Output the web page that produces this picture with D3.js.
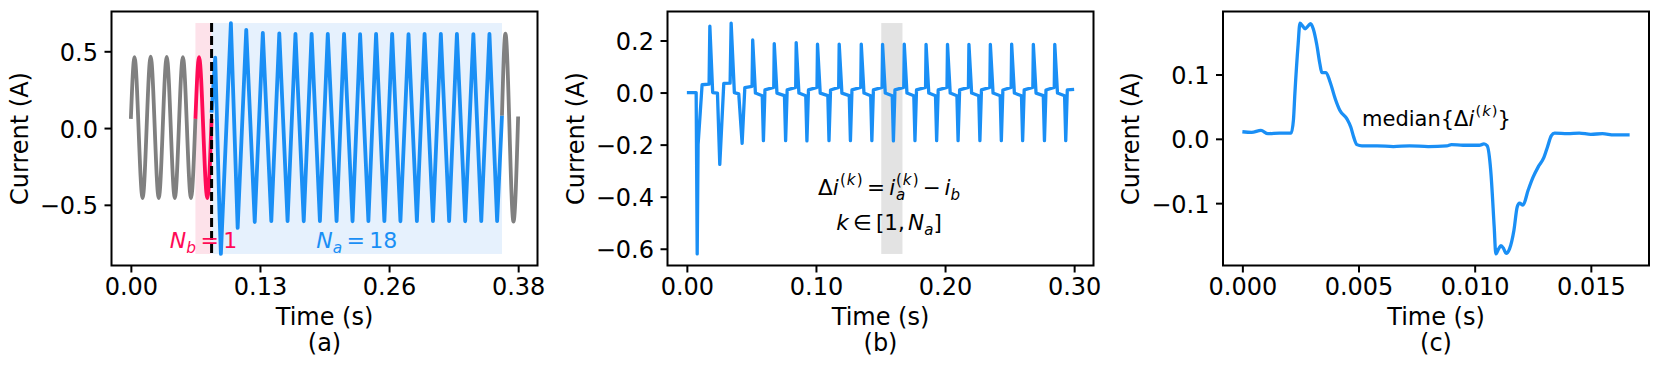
<!DOCTYPE html>
<html>
<head>
<meta charset="utf-8">
<script src="https://cdn.jsdelivr.net/npm/d3@7"></script>
<style>
  body { margin: 0; background: #fff; }
  svg text { font-family: "DejaVu Sans", sans-serif; }
</style>
</head>
<body>
<script>
// ---- panel (a): raw current, before / after the event ----
const aGrayT = [0, 0.0036, 0.0116, 0.0196, 0.0276, 0.0355, 0.0435, 0.0515, 0.0595, 0.0639];
const aGrayI = [0.06, 0.462, -0.457, 0.465, -0.457, 0.463, -0.457, 0.462, -0.457, 0.06];
const aPinkT = [0.0639, 0.0675, 0.0757, 0.0799];
const aPinkI = [0.06, 0.462, -0.457, 0.06];
const aBlueT = [0.0799, 0.0835, 0.0877, 0.0891,
  0.0990, 0.1057, 0.1142, 0.1226, 0.1306, 0.1390, 0.1469, 0.1551, 0.1629, 0.1711,
  0.1789, 0.1871, 0.1949, 0.2036, 0.2110, 0.2194, 0.2269, 0.2351, 0.2427, 0.2509,
  0.2586, 0.2668, 0.2748, 0.2831, 0.2907, 0.2990, 0.3068, 0.3150, 0.3227, 0.3309,
  0.3390, 0.3468, 0.3549, 0.3625, 0.3673];
const aBlueI = [0.10, 0.458, -0.55, -0.82,
  0.684, -0.65, 0.640, -0.612, 0.620, -0.606, 0.617, -0.606, 0.614, -0.607,
  0.613, -0.606, 0.614, -0.606, 0.613, -0.607, 0.612, -0.606, 0.614, -0.606,
  0.613, -0.607, 0.612, -0.606, 0.613, -0.606, 0.614, -0.606, 0.613, -0.607,
  0.612, -0.606, 0.613, -0.606, 0.08];
const aGray2T = [0.3673, 0.3707, 0.3787, 0.3833];
const aGray2I = [0.08, 0.615, -0.610, 0.075];
const aBefore = [0.0639, 0.0799];
const aAfter = [0.0799, 0.3673];
const aTicks = [0, 0.12778, 0.25556, 0.38333];
const aTickLabels = ["0.00", "0.13", "0.26", "0.38"];
const nBefore = 1, nAfter = 18;

// ---- panel (b): difference current ----
const bTime = [
  0, 0.0072, 0.0080, 0.0087, 0.0118, 0.0172,
  0.0178, 0.0200, 0.0237, 0.0255, 0.0286, 0.0335,
  0.0343, 0.0368, 0.0402, 0.0428, 0.0449, 0.0505,
  0.0510, 0.0531, 0.0584, 0.0593, 0.0605, 0.0673,
  0.0677, 0.0698, 0.0756, 0.0765, 0.0777, 0.0843,
  0.0847, 0.0868, 0.0921, 0.0930, 0.0942, 0.1008,
  0.1012, 0.1033, 0.1092, 0.1101, 0.1113, 0.1176,
  0.1180, 0.1201, 0.1258, 0.1267, 0.1279, 0.1347,
  0.1351, 0.1372, 0.1424, 0.1433, 0.1445, 0.1512,
  0.1516, 0.1537, 0.1591, 0.1600, 0.1612, 0.1680,
  0.1684, 0.1705, 0.1758, 0.1767, 0.1779, 0.1849,
  0.1853, 0.1874, 0.1926, 0.1935, 0.1947, 0.2015,
  0.2019, 0.2040, 0.2092, 0.2101, 0.2113, 0.2181,
  0.2185, 0.2206, 0.2261, 0.2270, 0.2282, 0.2347,
  0.2351, 0.2372, 0.2427, 0.2436, 0.2448, 0.2512,
  0.2516, 0.2537, 0.2592, 0.2601, 0.2613, 0.2680,
  0.2684, 0.2705, 0.2761, 0.2770, 0.2782, 0.2846,
  0.2850, 0.2871, 0.2926, 0.2935, 0.2947, 0.3000];
const bCurrent = [
  0, 0, -0.62, -0.20, 0.030, 0.032,
  0.255, 0.000, -0.002, -0.276, 0.035, 0.036,
  0.267, 0.000, -0.005, -0.195, 0.019, 0.024,
  0.202, -0.002, -0.012, -0.185, 0.010, 0.020,
  0.188, -0.002, -0.012, -0.185, 0.010, 0.020,
  0.192, -0.002, -0.012, -0.186, 0.010, 0.020,
  0.186, -0.002, -0.012, -0.185, 0.010, 0.020,
  0.186, -0.002, -0.012, -0.185, 0.010, 0.020,
  0.186, -0.002, -0.012, -0.185, 0.010, 0.020,
  0.185, -0.002, -0.012, -0.186, 0.010, 0.020,
  0.186, -0.002, -0.012, -0.185, 0.010, 0.020,
  0.185, -0.002, -0.012, -0.185, 0.010, 0.020,
  0.185, -0.002, -0.012, -0.185, 0.010, 0.020,
  0.185, -0.002, -0.012, -0.185, 0.010, 0.020,
  0.185, -0.002, -0.012, -0.185, 0.010, 0.020,
  0.186, -0.002, -0.012, -0.185, 0.010, 0.020,
  0.185, -0.002, -0.012, -0.185, 0.010, 0.020,
  0.185, -0.002, -0.012, -0.185, 0.010, 0.012];
const bBand = [0.1506, 0.1670];
const bTicks = [0, 0.1, 0.2, 0.3];
const bYTicks = [-0.6, -0.4, -0.2, 0, 0.2];

// ---- panel (c): median difference over one cycle ----
const cTime = [0, 0.0004, 0.0008, 0.0011, 0.0016, 0.0021, 0.0022, 0.00226, 0.0024, 0.00248,
  0.00258, 0.0027, 0.00284, 0.00294, 0.00305, 0.0032, 0.00334, 0.00342, 0.0036, 0.00378,
  0.0040, 0.0042, 0.0045, 0.00467, 0.00479, 0.00493, 0.00515, 0.0058, 0.0065, 0.0072,
  0.0080, 0.0088, 0.0090, 0.0095, 0.0102, 0.0104, 0.01054, 0.01069, 0.01084, 0.01091,
  0.01103, 0.01113, 0.01125, 0.01135, 0.0115, 0.01169, 0.01183, 0.01193, 0.01208, 0.0123,
  0.01251, 0.01273, 0.01298, 0.01313, 0.0133, 0.01344, 0.0140, 0.0145, 0.0150, 0.0155,
  0.0160, 0.01667];
const cCurrent = [0.011, 0.010, 0.013, 0.008, 0.009, 0.009, 0.030, 0.070, 0.147, 0.180,
  0.176, 0.171, 0.176, 0.179, 0.171, 0.147, 0.116, 0.103, 0.103, 0.088,
  0.062, 0.044, 0.031, 0.018, 0.003, -0.009, -0.011, -0.011, -0.012, -0.011,
  -0.012, -0.011, -0.009, -0.010, -0.010, -0.008, -0.011, -0.049, -0.137, -0.179,
  -0.171, -0.166, -0.171, -0.178, -0.171, -0.142, -0.106, -0.100, -0.103, -0.080,
  -0.060, -0.044, -0.029, -0.013, 0.005, 0.009, 0.008, 0.009, 0.007, 0.008,
  0.006, 0.006];
const cTicks = [0, 0.005, 0.010, 0.015];
const cYTicks = [-0.1, 0, 0.1];

const BLUE = "#1a8ff5";
const PINK = "#ff0a56";
const GRAY = "#808080";

const W = 1661, H = 369;
const AW = 426, AH = 254, TOP = 11.5;
const FS = 24;

const svg = d3.select("body").append("svg").attr("width", W).attr("height", H);

function pad([a, b]) {
  const m = (b - a) * 0.05;
  return [a - m, b + m];
}

function makeScales(left, xExt, yExt) {
  const x = d3.scaleLinear().domain(pad(xExt)).range([left, left + AW]);
  const y = d3.scaleLinear().domain(pad(yExt)).range([TOP + AH, TOP]);
  return { x, y };
}

function drawAxes(left, x, y, xTicks, xFmt, yTicks, yFmt, caption) {
  const xa = svg.append("g")
    .attr("transform", `translate(0,${TOP + AH})`)
    .call(d3.axisBottom(x).tickValues(xTicks).tickFormat(xFmt).tickSize(7).tickPadding(5.5));
  const ya = svg.append("g")
    .attr("transform", `translate(${left},0)`)
    .call(d3.axisLeft(y).tickValues(yTicks).tickFormat(yFmt).tickSize(7).tickPadding(6.5));
  [xa, ya].forEach(a => {
    a.select(".domain").remove();
    a.selectAll("line").attr("stroke", "#000").attr("stroke-width", 2);
    a.selectAll("text").attr("font-size", FS).attr("fill", "#000")
      .style("font-family", "'DejaVu Sans', sans-serif");
  });
  ya.selectAll("text").attr("dy", "0.38em");

  svg.append("rect")
    .attr("x", left).attr("y", TOP).attr("width", AW).attr("height", AH)
    .attr("fill", "none").attr("stroke", "#000").attr("stroke-width", 2);

  svg.append("text")
    .attr("x", left + AW / 2).attr("y", 325)
    .attr("text-anchor", "middle").attr("font-size", FS)
    .text("Time (s)");
  svg.append("text")
    .attr("x", left + AW / 2).attr("y", 351)
    .attr("text-anchor", "middle").attr("font-size", FS)
    .text(caption);
  svg.append("text")
    .attr("transform", `translate(${left - 84},${TOP + AH / 2}) rotate(-90)`)
    .attr("text-anchor", "middle").attr("font-size", FS)
    .text("Current (A)");
}

// mathtext-like layout in one <text>: italic letters, sub and superscripts
// each segment: [string, italic, extra space before it in em]
function mathText(parts, x, y, size, color, anchor) {
  const t = svg.append("text").attr("fill", color).attr("font-size", size).attr("y", y);
  let pen = 0, maxX = 0, lastStart = 0, curDy = 0, gapAcc = 0;
  for (const p of parts) {
    if (p.gap !== undefined) { gapAcc += p.gap * size; continue; }
    const start = p.stack ? lastStart : maxX + gapAcc;
    gapAcc = 0;
    const fs = size * (p.sc || 1);
    const shift = (p.dy || 0) * size;
    p.s.forEach(([s, ital, pre], j) => {
      const ts = t.append("tspan")
        .attr("font-size", fs)
        .attr("font-style", ital ? "italic" : "normal")
        .text(s);
      if (j === 0) {
        ts.attr("dx", start - pen).attr("dy", shift - curDy);
        pen = start;
        curDy = shift;
      } else if (pre) {
        ts.attr("dx", pre * fs);
        pen += pre * fs;
      }
      pen += ts.node().getComputedTextLength();
    });
    lastStart = start;
    maxX = Math.max(maxX, pen);
  }
  const off = anchor === "middle" ? -maxX / 2 : anchor === "end" ? -maxX : 0;
  t.attr("x", x + off);
}
const it = s => ({ s: [[s, true]] });
const rm = s => ({ s: [[s, false]] });
const sub = s => ({ s: [[s, true]], sc: 0.7, dy: 0.25 });
const supK = stack => ({ s: [["(", false], ["k", true, 0.06], [")", false, 0.08]], sc: 0.7, dy: -0.45, stack });
const gap = v => ({ gap: v });

const lineOf = (x, y, curve) => d3.line().x(d => x(d[0])).y(d => y(d[1])).curve(curve);

// ================= panel (a) =================
{
  const left = 111.5;
  const allI = [...aGrayI, ...aPinkI, ...aBlueI, ...aGray2I];
  const yExt = d3.extent(allI);
  const { x, y } = makeScales(left, [0, d3.max(aGray2T)], yExt);

  svg.append("rect")
    .attr("x", x(aBefore[0])).attr("width", x(aBefore[1]) - x(aBefore[0]))
    .attr("y", y(yExt[1])).attr("height", y(yExt[0]) - y(yExt[1]))
    .attr("fill", "#fde2ea");
  svg.append("rect")
    .attr("x", x(aAfter[0])).attr("width", x(aAfter[1]) - x(aAfter[0]))
    .attr("y", y(yExt[1])).attr("height", y(yExt[0]) - y(yExt[1]))
    .attr("fill", "#e6f1fd");

  const smooth = lineOf(x, y, d3.curveMonotoneX);
  const sharp = lineOf(x, y, d3.curveLinear);
  const draw = (pts, gen, color) => svg.append("path")
    .attr("d", gen(pts)).attr("fill", "none").attr("stroke", color)
    .attr("stroke-width", 3.8).attr("stroke-linejoin", "round");

  draw(d3.zip(aGrayT, aGrayI), smooth, GRAY);
  draw(d3.zip(aGray2T, aGray2I), smooth, GRAY);
  draw(d3.zip(aPinkT, aPinkI), smooth, PINK);
  draw(d3.zip(aBlueT, aBlueI), sharp, BLUE);

  svg.append("line")
    .attr("x1", x(aAfter[0])).attr("x2", x(aAfter[0]))
    .attr("y1", y(yExt[1])).attr("y2", y(yExt[0]))
    .attr("stroke", "#000").attr("stroke-width", 3).attr("stroke-dasharray", "9,4");

  const ty = y(yExt[0]) - 6;
  mathText([it("N"), sub("b"), gap(0.2), rm("="), gap(0.2), rm(String(nBefore))],
    x((aBefore[0] + aBefore[1]) / 2), ty, 22, PINK, "middle");
  mathText([it("N"), sub("a"), gap(0.2), rm("="), gap(0.2), rm(String(nAfter))],
    x((aAfter[0] + aAfter[1]) / 2), ty, 22, BLUE, "middle");

  drawAxes(left, x, y, aTicks, (d, i) => aTickLabels[i], [-0.5, 0, 0.5], d3.format(".1f"), "(a)");
}

// ================= panel (b) =================
{
  const left = 667.5;
  const yExt = d3.extent(bCurrent);
  const { x, y } = makeScales(left, d3.extent(bTime), yExt);

  svg.append("rect")
    .attr("x", x(bBand[0])).attr("width", x(bBand[1]) - x(bBand[0]))
    .attr("y", y(yExt[1])).attr("height", y(yExt[0]) - y(yExt[1]))
    .attr("fill", "#e3e3e3");

  svg.append("path")
    .attr("d", lineOf(x, y, d3.curveLinear)(d3.zip(bTime, bCurrent)))
    .attr("fill", "none").attr("stroke", BLUE).attr("stroke-width", 3.3)
    .attr("stroke-linejoin", "round");

  mathText([rm("Δ"), it("i"), gap(0.06), supK(false), gap(0.2), rm("="), gap(0.2), it("i"), gap(0.04), sub("a"),
    supK(true), gap(0.18), rm("−"), gap(0.18), it("i"), sub("b")], x(0.1566), y(-0.394), 21.5, "#000", "middle");
  mathText([it("k"), gap(0.2), rm("∈"), gap(0.2), rm("[1,"), gap(0.15), it("N"), sub("a"), rm("]")],
    x(0.1566), y(-0.528), 21.5, "#000", "middle");

  drawAxes(left, x, y, bTicks, d3.format(".2f"), bYTicks, d3.format(".1f"), "(b)");
}

// ================= panel (c) =================
{
  const left = 1223;
  const yExt = d3.extent(cCurrent);
  const { x, y } = makeScales(left, d3.extent(cTime), yExt);

  svg.append("path")
    .attr("d", lineOf(x, y, d3.curveMonotoneX)(d3.zip(cTime, cCurrent)))
    .attr("fill", "none").attr("stroke", BLUE).attr("stroke-width", 3.3)
    .attr("stroke-linejoin", "round");

  mathText([rm("median{Δ"), it("i"), gap(0.06), supK(false), rm("}")], x(0.00515), y(0.0207), 21, "#000", "start");

  drawAxes(left, x, y, cTicks, d3.format(".3f"), cYTicks, d3.format(".1f"), "(c)");
}
</script>
</body>
</html>
